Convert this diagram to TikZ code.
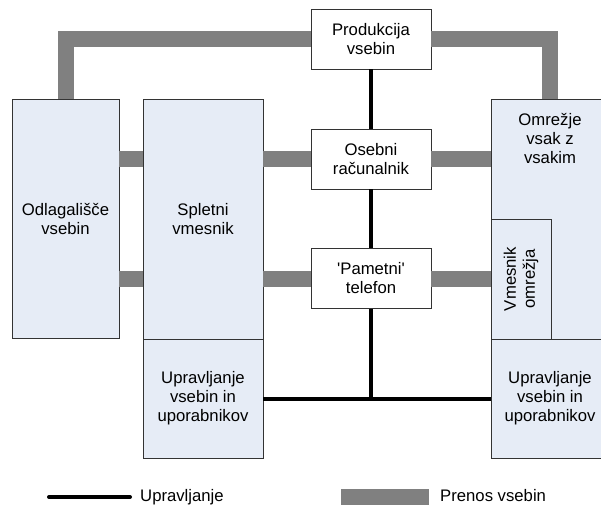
\documentclass[tikz,border=0pt]{standalone}
\usepackage{fontspec}
\setmainfont{Liberation Sans}
\definecolor{boxblue}{HTML}{E6ECF6}
\definecolor{pipegray}{HTML}{808080}

\begin{document}
\begin{tikzpicture}[x=1pt,y=-1pt]
      \tikzstyle{every node}=[font=\fontsize{16.7}{19}\selectfont,align=center,
			      inner sep=0pt]
      \tikzstyle{whitebox}=[draw=black!80,fill=white,line width=0.8pt,
			      minimum width=120pt,minimum height=60pt]
      \tikzstyle{bluebox}=[draw=black!80,fill=boxblue,line width=0.8pt]
      \tikzstyle{pipe}=[draw=pipegray,line width=16pt,line join=miter]
      \tikzstyle{ctrl}=[draw=black,line width=4pt]
      \useasboundingbox (0,0) rectangle (601,506);
      \clip (0,0) rectangle (601,506);
      \node (prod) [whitebox] at (371,39) {Produkcija\\vsebin};
      \node (pc) [whitebox] at (371,159) {Osebni\\računalnik};
      \node (phone) [whitebox] at (371,278.5) {\textquotesingle Pametni\textquotesingle\\telefon};
      \node (odl) [bluebox,minimum width=107pt,minimum height=239pt] at (65.5,218.5) {Odlagališče\\vsebin};
      \node (spl) [bluebox,minimum width=120pt,minimum height=240pt] at (203,219) {Spletni\\vmesnik};
      \node (upr1) [bluebox,minimum width=120pt,minimum height=119pt] at (203,398.5) {Upravljanje\\vsebin in\\uporabnikov};
      \node (omr) [bluebox,minimum width=118pt,minimum height=240pt] at (550,219) {};
      \node (omrtext) at (550,138) {Omrežje\\vsak z\\vsakim};
      \node (vmes) [bluebox,minimum width=60pt,minimum height=120pt] at (521,279) {};
      \node (vmestext) [rotate=90] at (vmes) {Vmesnik\\omrežja};
      \node (upr2) [bluebox,minimum width=118pt,minimum height=119pt] at (550,398.5) {Upravljanje\\vsebin in\\uporabnikov};
      \draw [pipe] (odl.north) |- (prod.west);
      \draw [pipe] (prod.east) -| (omr.north);
      \draw [pipe] (odl.east |- pc) -- (spl.west |- pc);
      \draw [pipe] (spl.east |- pc) -- (pc.west);
      \draw [pipe] (pc.east) -- (omr.west |- pc);
      \draw [pipe] (odl.east |- phone) -- (spl.west |- phone);
      \draw [pipe] (spl.east |- phone) -- (phone.west);
      \draw [pipe] (phone.east) -- (vmes.west |- phone);
      \draw [ctrl] (prod.south) -- (pc.north);
      \draw [ctrl] (pc.south) -- (phone.north);
      \draw [ctrl] (phone.south) -- (phone.south |- upr1.east);
      \draw [ctrl] (upr1.east) -- (upr2.west);
      \coordinate (ctrlA) at (49,497);
      \coordinate (ctrlB) at (130,497);
      \draw [ctrl,line cap=round] (ctrlA) -- (ctrlB);
      \node (ctrllabel) [anchor=base west] at (140,501) {Upravljanje};
      \coordinate (pipeA) at (341,497);
      \coordinate (pipeB) at (429,497);
      \draw [pipe] (pipeA) -- (pipeB);
      \node (pipelabel) [anchor=base west] at (440,501) {Prenos vsebin};
  \end{tikzpicture}
\end{document}
